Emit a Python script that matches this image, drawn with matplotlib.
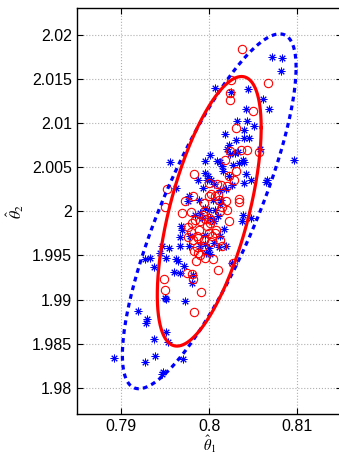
import numpy as np
import matplotlib
matplotlib.use("Agg")
import matplotlib.pyplot as plt

plt.rcParams['font.family'] = ['Liberation Sans', 'DejaVu Sans']
plt.rcParams['mathtext.fontset'] = 'stix'

# red circles (theta1, theta2)
red_t1 = [0.80374, 0.80664, 0.80242, 0.80230, 0.80238, 0.80498, 0.80298, 0.80230, 0.80355, 0.80430,
          0.80562, 0.80177, 0.80306, 0.80223, 0.80276, 0.79830, 0.79521, 0.80000, 0.80087, 0.80132,
          0.80200, 0.79815, 0.79728, 0.79996, 0.80023, 0.80060, 0.80094, 0.80189, 0.80340, 0.80340,
          0.79943, 0.79789, 0.79687, 0.80200, 0.79494, 0.80143, 0.80226, 0.79834, 0.79804, 0.79928,
          0.79951, 0.79992, 0.80019, 0.79974, 0.79879, 0.79792, 0.79860, 0.79755, 0.79811, 0.79875,
          0.80072, 0.80064, 0.80034, 0.80023, 0.79943, 0.79928, 0.79857, 0.79826, 0.79868, 0.79947,
          0.80042, 0.79849, 0.80094, 0.80264, 0.79808, 0.79751, 0.79815, 0.79491, 0.79494, 0.79906,
          0.79826, 0.79955, 0.80125, 0.80011, 0.80125, 0.80143, 0.80106, 0.79891, 0.79992, 0.79760,
          0.79900]
red_t2 = [2.01836, 2.01459, 2.01489, 2.01338, 2.01263, 2.01131, 2.00942, 2.00678, 2.00697, 2.00690,
          2.00667, 2.00577, 2.00452, 2.00403, 2.00358, 2.00422, 2.00256, 2.00324, 2.00309, 2.00302,
          2.00290, 2.00170, 2.00121, 2.00170, 2.00192, 2.00173, 2.00185, 2.00121, 2.00143, 2.00106,
          2.00094, 1.99992, 1.99977, 2.00011, 2.00053, 2.00045, 1.99894, 1.99906, 1.99868, 1.99955,
          1.99913, 1.99925, 1.99898, 1.99838, 1.99793, 1.99766, 1.99717, 1.99706, 1.99672, 1.99695,
          1.99793, 1.99755, 1.99717, 1.99650, 1.99680, 1.99604, 1.99597, 1.99548, 1.99529, 1.99472,
          1.99454, 1.99442, 1.99333, 1.99412, 1.99288, 1.99303, 1.99235, 1.99235, 1.99114, 1.99084,
          1.98858, 2.00000, 2.00000, 1.99868, 1.99680, 1.99604, 2.00132, 1.99887, 1.99755, 1.99820,
          1.99500]

# blue asterisks (theta1, theta2)
blue_t1 = [0.80713, 0.80823, 0.80811, 0.80060, 0.80249, 0.80438, 0.80615, 0.80683, 0.80415, 0.80317,
           0.80430, 0.80510, 0.80396, 0.80174, 0.80302, 0.80396, 0.80449, 0.80223, 0.80204, 0.80238,
           0.80294, 0.80328, 0.80574, 0.80381, 0.80008, 0.79955, 0.79551, 0.80087, 0.80125, 0.80143,
           0.80264, 0.80343, 0.80389, 0.79947, 0.79989, 0.79875, 0.79974, 0.80023, 0.80049, 0.80223,
           0.80419, 0.80389, 0.80472, 0.80253, 0.80185, 0.80125, 0.79626, 0.79774, 0.79762, 0.79887,
           0.80045, 0.80132, 0.79951, 0.79992, 0.80068, 0.80102, 0.80004, 0.79921, 0.80385, 0.80479,
           0.80125, 0.79898, 0.79675, 0.79687, 0.79672, 0.79777, 0.79951, 0.80053, 0.80170, 0.80366,
           0.80125, 0.80185, 0.80049, 0.80106, 0.79996, 0.79958, 0.79891, 0.80011, 0.79770, 0.79664,
           0.79547, 0.79460, 0.79445, 0.79328, 0.79272, 0.79513, 0.79623, 0.79645, 0.79713, 0.79672,
           0.79596, 0.79374, 0.79811, 0.79808, 0.80257, 0.79494, 0.79509, 0.79728, 0.79196, 0.79294,
           0.79287, 0.79513, 0.79528, 0.79374, 0.79389, 0.79272, 0.79702, 0.78924, 0.79472, 0.79460,
           0.80966, 0.80653, 0.80642, 0.80155, 0.79928, 0.79947, 0.79841]
blue_t2 = [2.01753, 2.01741, 2.01594, 2.01395, 2.01357, 2.01383, 2.01274, 2.01161, 2.01161, 2.01018,
           2.01018, 2.00961, 2.00923, 2.00878, 2.00803, 2.00829, 2.00829, 2.00746, 2.00705, 2.00652,
           2.00660, 2.00667, 2.00709, 2.00577, 2.00641, 2.00565, 2.00554, 2.00565, 2.00554, 2.00509,
           2.00520, 2.00547, 2.00562, 2.00433, 2.00403, 2.00351, 2.00358, 2.00358, 2.00313, 2.00396,
           2.00426, 2.00320, 2.00351, 2.00302, 2.00256, 2.00237, 2.00264, 2.00170, 2.00113, 2.00132,
           2.00124, 2.00132, 2.00038, 2.00019, 2.00011, 1.99951, 1.99925, 1.99925, 1.99962, 1.99925,
           2.00087, 1.99981, 1.99830, 1.99793, 1.99710, 1.99717, 1.99736, 1.99887, 1.99800, 1.99887,
           1.99717, 1.99612, 1.99642, 1.99597, 1.99585, 1.99529, 1.99604, 1.99521, 1.99604, 1.99612,
           1.99585, 1.99604, 1.99529, 1.99469, 1.99454, 1.99472, 1.99454, 1.99442, 1.99378, 1.99303,
           1.99310, 1.99367, 1.99280, 1.99190, 1.99416, 1.99020, 1.99001, 1.98982, 1.98869, 1.98775,
           1.98737, 1.98632, 1.98519, 1.98556, 1.98360, 1.98293, 1.98330, 1.98342, 1.98180, 1.98153,
           2.00577, 2.00358, 2.00328, 2.00452, 2.00264, 1.99634, 1.99962]

# confidence ellipses: centre and shape matrix
center = [0.8, 2.0]
red_shape = [[3.47e-5, 5.59e-5], [5.59e-5, 2.332e-4]]
blue_shape = [[9.70e-5, 1.604e-4], [1.604e-4, 4.04e-4]]


def ellipse(shape, n=400):
    t = np.linspace(0, 2 * np.pi, n)
    L = np.linalg.cholesky(np.array(shape))
    pts = L @ np.vstack([np.cos(t), np.sin(t)])
    return center[0] + pts[0], center[1] + pts[1]


fig = plt.figure(figsize=(3.39, 4.55), dpi=100)
ax = fig.add_axes([0.227, 0.0894, 0.7804, 0.8924])

ax.plot(blue_t1, blue_t2, linestyle='none', marker=(8, 2, 0), ms=5.5, mew=0.7, color='blue')
ax.plot(red_t1, red_t2, linestyle='none', marker='o', ms=6, mew=0.8, mfc='none', mec='red')

bx, by = ellipse(blue_shape)
ax.plot(bx, by, color='blue', lw=2.3, linestyle=(0, (1.5, 1.3)))
rx, ry = ellipse(red_shape)
ax.plot(rx, ry, color='red', lw=2.3)

ax.set_xlim(0.785, 0.815)
ax.set_ylim(1.977, 2.023)
ax.set_xticks([0.79, 0.8, 0.81])
ax.set_xticklabels(['0.79', '0.8', '0.81'])
ax.set_yticks([1.98, 1.985, 1.99, 1.995, 2.0, 2.005, 2.01, 2.015, 2.02])
ax.set_yticklabels(['1.98', '1.985', '1.99', '1.995', '2', '2.005', '2.01', '2.015', '2.02'])
ax.tick_params(direction='in', length=4, width=0.8, labelsize=11.5, top=True, right=True)
ax.grid(True, linestyle=':', color='#b0b0b0', lw=0.8)
for s in ax.spines.values():
    s.set_linewidth(1.0)

ax.set_xlabel(r'$\hat{\theta}_1$', fontsize=10.5)
ax.xaxis.set_label_coords(0.5, -0.047)
ax.set_ylabel(r'$\hat{\theta}_2$', fontsize=11.5, labelpad=4)

fig.savefig('out.png', dpi=100)
